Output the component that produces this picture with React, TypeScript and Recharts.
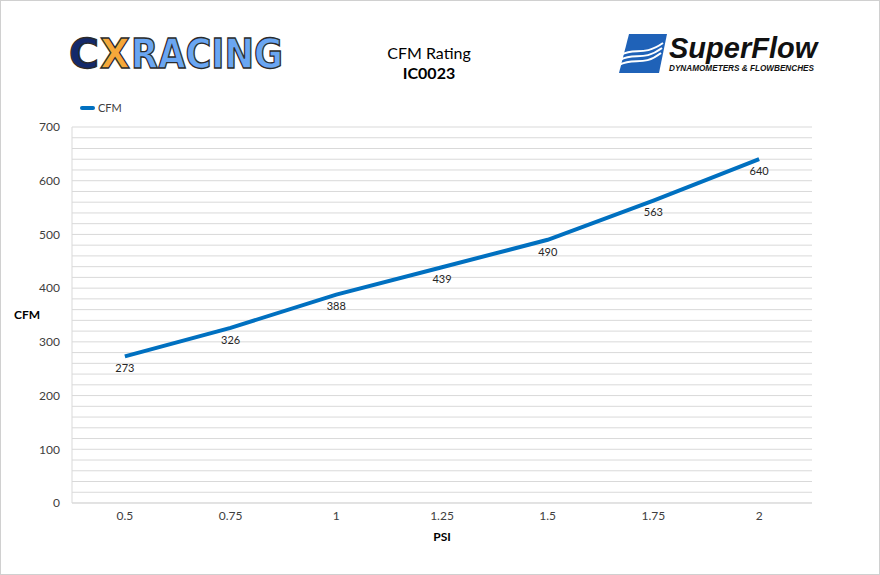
import { LineChart, Line, XAxis, YAxis, CartesianGrid, LabelList, Label } from 'recharts'

const psi = ['0.5', '0.75', '1', '1.25', '1.5', '1.75', '2']
const cfm = [273, 326, 388, 439, 490, 563, 640]
const gridTicks = [
  0, 20, 40, 60, 80, 100, 120, 140, 160, 180, 200, 220, 240, 260, 280, 300, 320, 340,
  360, 380, 400, 420, 440, 460, 480, 500, 520, 540, 560, 580, 600, 620, 640, 660, 680, 700
]

const data = psi.map((p, i) => ({ psi: p, cfm: cfm[i] }))

const FONT = 'Lato, "Open Sans", sans-serif'
const LINE = '#0070c0'

function CxLogo() {
  const common = {
    fontFamily: 'DejaVu Sans',
    fontWeight: 'bold' as const,
    fontSize: 33,
    stroke: '#2b2b2b',
    strokeWidth: 1.1,
    lengthAdjust: 'spacingAndGlyphs' as const,
    y: 0
  }
  return (
    <svg width={236} height={52} style={{ position: 'absolute', left: 62, top: 26 }}>
      <g transform="translate(0,41) scale(1,1.22)">
        <text {...common} x={6} textLength={30} fill="#13296b">C</text>
        <text {...common} x={37} textLength={30} fill="#f5a83a">X</text>
        <text {...common} x={68} textLength={152} fill="#6aa6f2">RACING</text>
      </g>
    </svg>
  )
}

function SuperFlowLogo() {
  return (
    <svg width={204} height={44} style={{ position: 'absolute', left: 616, top: 30 }}>
      <polygon points="12,3 50,3 42,42 2,42" fill="#1f62b8" />
      <path d="M4,24 C18,16 26,26 46,12" stroke="#fff" strokeWidth={2} fill="none" />
      <path d="M3,29 C18,21 26,31 45,17" stroke="#fff" strokeWidth={2} fill="none" />
      <path d="M2,34 C18,26 26,36 44,22" stroke="#fff" strokeWidth={2} fill="none" />
      <text x={52} y={27} fontFamily="Liberation Sans" fontWeight="bold" fontStyle="italic" fontSize={29} fill="#111">
        SuperFlow
      </text>
      <text
        x={52}
        y={40}
        fontFamily="Liberation Sans"
        fontWeight="bold"
        fontStyle="italic"
        fontSize={8.5}
        fill="#111"
        textLength={145}
        lengthAdjust="spacingAndGlyphs"
      >
        DYNAMOMETERS &amp; FLOWBENCHES
      </text>
    </svg>
  )
}

export default function App() {
  return (
    <div
      style={{
        position: 'fixed',
        left: 0,
        top: 0,
        width: 878,
        height: 573,
        border: '1px solid #d0d0d0',
        background: '#fff',
        fontFamily: FONT
      }}
    >
      <CxLogo />
      <SuperFlowLogo />
      <div style={{ position: 'absolute', left: 0, top: 42, width: 856, textAlign: 'center', fontSize: 16, color: '#000', lineHeight: '20px' }}>
        CFM Rating
        <div style={{ fontWeight: 'bold' }}>IC0023</div>
      </div>
      {/* legend */}
      <div style={{ position: 'absolute', left: 79, top: 100, display: 'flex', alignItems: 'center', fontSize: 11, color: '#404040' }}>
        <div style={{ width: 15, height: 4, borderRadius: 2, background: LINE, marginRight: 3 }} />
        CFM
      </div>
      <div style={{ position: 'absolute', left: -1, top: -1 }}>
        <LineChart
          width={880}
          height={575}
          data={data}
          margin={{ top: 127, right: 68, left: 12, bottom: 42 }}
          style={{ fontFamily: FONT }}
        >
          <CartesianGrid vertical={false} stroke="#d9d9d9" />
          <XAxis
            dataKey="psi"
            scale="band"
            stroke="#d9d9d9"
            tickLine={false}
            tickSize={0}
            tickMargin={8}
            height={30}
            tick={{ fill: '#404040', fontSize: 12 }}
          >
            <Label value="PSI" position="bottom" offset={-1} style={{ fontWeight: 'bold', fontSize: 12, fill: '#000' }} />
          </XAxis>
          <YAxis
            domain={[0, 700]}
            ticks={gridTicks}
            interval={0}
            width={60}
            stroke="#d9d9d9"
            tickLine={false}
            tickSize={0}
            tickMargin={12}
            tick={{ fill: '#404040', fontSize: 12 }}
            tickFormatter={(v: number) => (v % 100 === 0 ? String(v) : '')}
          >
            <Label value="CFM" position="insideLeft" offset={2} style={{ fontWeight: 'bold', fontSize: 12, fill: '#000', textAnchor: 'start' }} />
          </YAxis>
          <Line
            type="linear"
            dataKey="cfm"
            name="CFM"
            stroke={LINE}
            strokeWidth={4}
            dot={false}
            isAnimationActive={false}
          >
            <LabelList dataKey="cfm" position="bottom" offset={8} style={{ fontSize: 11, fill: '#262626' }} />
          </Line>
        </LineChart>
      </div>
    </div>
  )
}
